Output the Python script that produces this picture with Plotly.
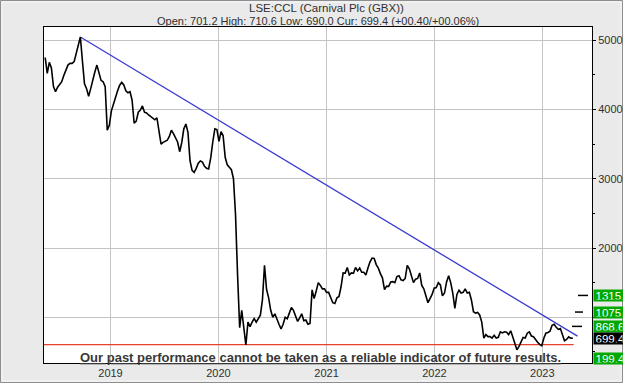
import pandas as pd
import plotly.graph_objects as go

# ---------------- data ----------------
start_date = "2018-05-25"
prices = [
    4750, 4520, 4680, 4600, 4330, 4256, 4320, 4370, 4400, 4490,
    4580, 4640, 4665, 4665, 4690, 4800, 4950, 5045, 4700, 4370,
    4300, 4190, 4300, 4430, 4540, 4640, 4520, 4420, 4400, 4330,
    3700, 3770, 3980, 4090, 4160, 4270, 4350, 4390, 4353, 4270,
    4240, 4256, 4136, 3800, 3830, 3960, 3990, 4050, 3960, 3948,
    3920, 3900, 3870, 3851, 3880, 3700, 3500, 3525, 3540, 3555,
    3610, 3700, 3650, 3590, 3530, 3390, 3520, 3720, 3790, 3670,
    3260, 3120, 3090, 3150, 3225, 3255, 3240, 3180, 3150, 3140,
    3300, 3530, 3720, 3710, 3540, 3680, 3620, 3310, 3200, 3165,
    3130, 3000, 2480, 1600, 850, 1100, 800, 600, 930, 864,
    930, 980, 930, 985, 1030, 1250, 1750, 1400, 1280, 1100,
    1000, 1050, 960, 900, 830, 900, 1000, 980, 1060, 1140,
    1100, 1020, 940, 990, 1050, 950, 960, 900, 910, 1395,
    1270, 1380, 1500, 1460, 1410, 1410, 1360, 1360, 1290, 1210,
    1200, 1280, 1300, 1440, 1640, 1636, 1720, 1610, 1640, 1636,
    1720, 1670, 1710, 1650, 1650, 1610, 1710, 1800, 1855, 1850,
    1760, 1710, 1630, 1570, 1400, 1450, 1445, 1510, 1515, 1500,
    1587, 1600, 1540, 1530, 1560, 1750, 1700, 1580, 1500, 1550,
    1560, 1640, 1460, 1410, 1290, 1210, 1270, 1330, 1420, 1430,
    1500, 1467, 1310, 1350, 1510, 1600, 1500, 1350, 1130, 1330,
    1390, 1350, 1360, 1410, 1350, 1360, 1250, 1080, 1060, 1070,
    1034, 930, 700, 750, 720, 720, 700, 740, 700, 710,
    790, 775, 790, 785, 750, 805, 715, 630, 530, 580,
    660, 710, 700, 770, 790, 730, 720, 670, 640, 610,
    590, 697, 770, 780, 800, 885, 900, 855, 825, 838,
    760, 660, 680, 717, 697, 699.4,
]
dates = pd.date_range(start_date, periods=len(prices), freq="7D")

trend_dates = ["2018-09-21", "2023-04-30"]
trend_values = [5045, 728]
support_dates = ["2018-05-21", "2023-04-17"]
support_values = [605, 605]

level_labels = ["1315.", "1075.", "868.6", "699.4", "199.4"]
level_values = [1315.3, 1075.5, 868.6, 699.4, 199.4]
level_colors = ["#00a800", "#00a800", "#00a800", "#000000", "#00a800"]
target_values = [1315.3, 1075.5, 868.6]

y_tick_values = [1000, 2000, 3000, 4000, 5000]
y_tick_text = ["", "2000", "3000", "4000", "5000"]

title_line1 = "LSE:CCL (Carnival Plc (GBX))"
title_line2 = "Open: 701.2 High: 710.6 Low: 690.0 Cur: 699.4 (+00.40/+00.06%)"
disclaimer = "Our past performance cannot be taken as a reliable indicator of future results."

x_range = ["2018-05-21", "2023-06-18"]
y_range = [340, 5190]

# ---------------- figure ----------------
W, H = 623, 383
ML, MR, MT, MB = 44, 31, 27, 20
PW, PH = W - ML - MR, H - MT - MB


def px(xp):
    return (xp - ML) / PW


def py(yp):
    return (H - MB - yp) / PH


fig = go.Figure()
fig.add_trace(go.Scatter(x=support_dates, y=support_values, mode="lines",
                         line=dict(color="#e8402a", width=1.4), hoverinfo="skip"))
fig.add_trace(go.Scatter(x=trend_dates, y=trend_values, mode="lines",
                         line=dict(color="#3a3ad0", width=1.3), hoverinfo="skip"))
fig.add_trace(go.Scatter(x=dates, y=prices, mode="lines",
                         line=dict(color="#000000", width=1.6), hoverinfo="skip"))

shapes = []
# frame border
shapes.append(dict(type="rect", xref="paper", yref="paper",
                   x0=px(0.5), x1=px(622.5), y0=py(382.5), y1=py(0.5),
                   line=dict(color="#8e8e8e", width=1), layer="below"))
shapes.append(dict(type="rect", xref="paper", yref="paper",
                   x0=px(2), x1=px(621), y0=py(381), y1=py(2),
                   line=dict(color="#f6f6f6", width=1), layer="below"))
# target dashes
dash_px = [(578, 588), (575, 583), (572, 582)]
for (a, b), v in zip(dash_px, target_values):
    shapes.append(dict(type="line", xref="paper", yref="y",
                       x0=px(a), x1=px(b), y0=v, y1=v,
                       line=dict(color="#000000", width=1.5)))

annotations = []
annotations.append(dict(text=title_line1, xref="paper", yref="paper",
                        x=px(326.7), y=py(7.5), showarrow=False,
                        xanchor="center", yanchor="middle",
                        font=dict(family="Liberation Sans, Arial", size=11.5, color="#303030")))
annotations.append(dict(text=title_line2, xref="paper", yref="paper",
                        x=px(318), y=py(20.7), showarrow=False,
                        xanchor="center", yanchor="middle",
                        font=dict(family="Liberation Sans, Arial", size=11, color="#303030")))
annotations.append(dict(text="<b>" + disclaimer + "</b>", xref="paper", yref="paper",
                        x=px(320), y=py(357), showarrow=False,
                        xanchor="center", yanchor="middle",
                        font=dict(family="Liberation Sans, Arial", size=13, color="#383838",
                                  lineposition="under")))

label_floor = y_range[0] + 72
for t, v, c in zip(level_labels, level_values, level_colors):
    annotations.append(dict(text=t, xref="paper", yref="y",
                            x=px(593), y=max(v, label_floor), showarrow=False,
                            xanchor="left", yanchor="middle", align="left",
                            width=27, height=8, borderpad=1.5, bgcolor=c,
                            font=dict(family="Liberation Sans, Arial", size=11.5, color="#ffffff")))

fig.update_layout(
    width=W, height=H,
    margin=dict(l=ML, r=MR, t=MT, b=MB, pad=0, autoexpand=False),
    paper_bgcolor="#eaeaea", plot_bgcolor="#ffffff",
    showlegend=False,
    shapes=shapes, annotations=annotations,
    xaxis=dict(type="date", range=x_range, dtick="M12", tick0="2019-01-01",
               tickformat="%Y", showgrid=True, gridcolor="#c4c4c4", gridwidth=1,
               showline=True, linecolor="#000000", linewidth=1, mirror=True,
               ticks="", zeroline=False, automargin=False,
               tickfont=dict(family="Liberation Sans, Arial", size=11, color="#303030")),
    yaxis=dict(side="right", range=y_range, tickmode="array",
               tickvals=y_tick_values, ticktext=y_tick_text,
               showgrid=True, gridcolor="#c4c4c4", gridwidth=1,
               showline=True, linecolor="#000000", linewidth=1, mirror=True,
               ticks="outside", ticklen=3, tickcolor="#000000", zeroline=False,
               automargin=False,
               minor=dict(dtick=500, tick0=0, ticks="outside", ticklen=2,
                          tickcolor="#000000", showgrid=False),
               tickfont=dict(family="Liberation Sans, Arial", size=11, color="#303030")),
)

fig.write_html("out.html")
